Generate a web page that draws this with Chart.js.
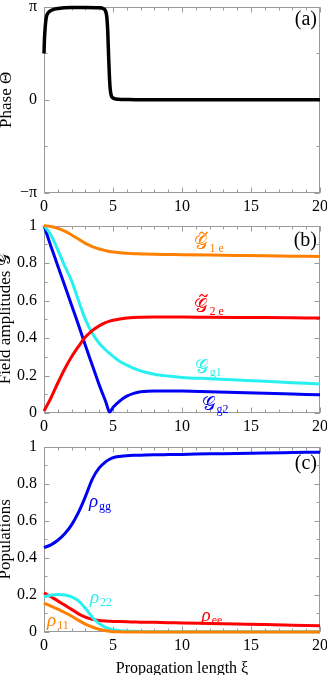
<!DOCTYPE html>
<html>
<head>
<meta charset="utf-8">
<script src="https://cdn.jsdelivr.net/npm/chart.js@4"></script>
<style>
  html, body { margin: 0; padding: 0; background: #fff; overflow: hidden; width: 327px; height: 675px; position: relative; }
  canvas { position: absolute; }
</style>
</head>
<body>
<canvas id="chartA" width="345" height="225" style="left:-6px;top:-10px"></canvas>
<canvas id="chartB" width="345" height="226" style="left:-6px;top:209px"></canvas>
<canvas id="chartC" width="345" height="248" style="left:-6px;top:430px"></canvas>
<script>
// ---- data ----
// (a) phase
const phaseXi = [0, 0.03, 0.07, 0.12, 0.19, 0.3, 0.43, 0.7, 1, 2, 3, 4, 4.3, 4.45, 4.55, 4.62, 4.68, 4.74, 4.8, 4.87, 4.95, 5.1, 5.4, 6, 7, 10, 15, 20];
const phaseTheta = [1.56, 2.0, 2.33, 2.62, 2.83, 2.93, 2.99, 3.05, 3.08, 3.11, 3.11, 3.1, 3.07, 3.0, 2.8, 2.3, 1.5, 0.8, 0.35, 0.15, 0.08, 0.04, 0.02, 0.01, 0, 0, 0, 0];
const phaseTickLabels = ['\u2212\u03c0', '0', '\u03c0'];

// (b) field amplitudes and (c) populations share one xi grid
const xi = [0, 0.5, 1, 1.5, 2, 2.5, 3, 3.5, 4, 4.5, 4.75, 5, 5.5, 6, 6.5, 7, 8, 9, 10, 12, 14, 16, 18, 20];
const G1e = [1.0, 0.995, 0.985, 0.97, 0.95, 0.928, 0.905, 0.888, 0.875, 0.866, 0.862, 0.859, 0.855, 0.852, 0.85, 0.849, 0.847, 0.846, 0.845, 0.843, 0.841, 0.839, 0.837, 0.835];
const G2e = [0.01, 0.08, 0.16, 0.235, 0.3, 0.355, 0.405, 0.44, 0.465, 0.483, 0.49, 0.495, 0.502, 0.507, 0.51, 0.511, 0.512, 0.512, 0.512, 0.511, 0.51, 0.509, 0.508, 0.507];
const Gg1 = [1.0, 0.95, 0.87, 0.785, 0.705, 0.6, 0.5, 0.425, 0.372, 0.335, 0.318, 0.302, 0.275, 0.255, 0.238, 0.225, 0.207, 0.197, 0.19, 0.183, 0.176, 0.169, 0.162, 0.155];
const Gg2 = [1.0, 0.89, 0.785, 0.68, 0.575, 0.47, 0.36, 0.255, 0.15, 0.055, 0.005, 0.03, 0.065, 0.09, 0.105, 0.113, 0.118, 0.118, 0.117, 0.113, 0.109, 0.105, 0.101, 0.097];

const rhoGG = [0.455, 0.47, 0.495, 0.53, 0.578, 0.645, 0.73, 0.825, 0.885, 0.92, 0.932, 0.94, 0.947, 0.951, 0.953, 0.954, 0.956, 0.957, 0.958, 0.961, 0.963, 0.966, 0.968, 0.97];
const rho22 = [0.19, 0.198, 0.202, 0.2, 0.19, 0.168, 0.128, 0.08, 0.045, 0.024, 0.017, 0.012, 0.007, 0.005, 0.004, 0.003, 0.002, 0.002, 0.002, 0.002, 0.002, 0.002, 0.002, 0.002];
const rhoEE = [0.212, 0.19, 0.168, 0.145, 0.122, 0.098, 0.08, 0.068, 0.062, 0.059, 0.058, 0.057, 0.056, 0.055, 0.054, 0.053, 0.052, 0.05, 0.049, 0.046, 0.043, 0.04, 0.037, 0.034];
const rho11 = [0.155, 0.14, 0.123, 0.105, 0.085, 0.063, 0.043, 0.027, 0.015, 0.007, 0.004, 0.002, 0.001, 0, 0, 0, 0, 0, 0, 0, 0, 0, 0, 0];

const unitTickLabels = ['0', '0.2', '0.4', '0.6', '0.8', '1'];

const ORANGE = 'rgb(255,128,0)', RED = 'rgb(255,0,0)', CYAN = 'rgb(40,240,240)', BLUE = 'rgb(0,0,245)';
const SERIF = '"Liberation Serif", "Times New Roman", serif';

const zip = (xs, ys) => xs.map((v, i) => ({ x: v, y: ys[i] }));
const range = (a, b, s) => { const r = []; for (let v = a; v <= b + 1e-9; v += s) r.push(+v.toFixed(4)); return r; };

// frame on all four sides with inward ticks (Mathematica style)
const frameTicks = {
  id: 'frameTicks',
  beforeDatasetsDraw(chart, args, opt) {
    const { ctx, chartArea: a, scales: { x, y } } = chart;
    ctx.save();
    ctx.strokeStyle = '#9a9a9a';
    ctx.lineWidth = 1;
    const L = Math.round(a.left) + 0.5, R = Math.round(a.right) - 0.5;
    const T = Math.round(a.top) + 0.5, B = Math.round(a.bottom) - 0.5;
    ctx.strokeRect(L, T, R - L, B - T);
    ctx.beginPath();
    const xm = (v, len) => {
      const p = Math.round(x.getPixelForValue(v)) + 0.5;
      ctx.moveTo(p, B); ctx.lineTo(p, B - len);
      ctx.moveTo(p, T); ctx.lineTo(p, T + len);
    };
    const ym = (v, len) => {
      const p = Math.round(y.getPixelForValue(v)) + 0.5;
      ctx.moveTo(L, p); ctx.lineTo(L + len, p);
      ctx.moveTo(R, p); ctx.lineTo(R - len, p);
    };
    opt.xMinor.forEach(v => xm(v, 3));
    opt.xMajor.forEach(v => xm(v, 5));
    opt.yMinor.forEach(v => ym(v, 3));
    opt.yMajor.forEach(v => ym(v, 5));
    ctx.stroke();
    ctx.restore();
  }
};

function drawMathLabel(ctx, cx, cy, it) {
  const mainFont = it.script ? '19px "DejaVu Serif", serif' : 'italic 19px ' + SERIF;
  const subFont = '12px ' + SERIF;
  ctx.font = mainFont;
  const mw = ctx.measureText(it.main).width;
  ctx.font = subFont;
  const sw = ctx.measureText(it.sub).width;
  const x0 = cx - (mw + sw + 1) / 2;
  const base = cy + 4;
  ctx.fillStyle = it.color;
  ctx.textAlign = 'left';
  ctx.textBaseline = 'alphabetic';
  ctx.font = mainFont;
  ctx.fillText(it.main, x0, base);
  if (it.tilde) {
    // small wave above the letter
    const tx = x0 + mw / 2 + 2, ty = base - 16;
    ctx.strokeStyle = it.color;
    ctx.lineWidth = 1.3;
    ctx.beginPath();
    ctx.moveTo(tx - 4, ty + 1.2);
    ctx.bezierCurveTo(tx - 2.5, ty - 2, tx - 1, ty - 1, tx, ty);
    ctx.bezierCurveTo(tx + 1, ty + 1, tx + 2.5, ty + 2, tx + 4, ty - 1.2);
    ctx.stroke();
  }
  ctx.font = subFont;
  ctx.fillText(it.sub, x0 + mw + 1, base + 3);
}

const curveLabels = {
  id: 'curveLabels',
  afterDatasetsDraw(chart, args, opt) {
    const { ctx, chartArea: a, scales: { x, y } } = chart;
    ctx.save();
    (opt.items || []).forEach(it => drawMathLabel(ctx, x.getPixelForValue(it.x), y.getPixelForValue(it.y), it));
    ctx.font = '20px ' + SERIF;
    ctx.fillStyle = '#000';
    ctx.textAlign = 'right';
    ctx.textBaseline = 'middle';
    ctx.fillText(opt.panel, a.right - 3, a.top + opt.panelDy);
    ctx.restore();
  }
};

Chart.register(frameTicks, curveLabels);
Chart.defaults.font.family = SERIF;
Chart.defaults.color = '#000';

function line(data, color, width) {
  return { data, borderColor: color, borderWidth: width, pointRadius: 0, fill: false, cubicInterpolationMode: 'monotone', clip: 4 };
}

function makeChart(id, cfg) {
  return new Chart(document.getElementById(id), {
    type: 'line',
    data: { datasets: cfg.datasets },
    options: {
      responsive: false,
      animation: false,
      events: [],
      layout: { padding: { top: 12, right: 19, left: 0, bottom: 0 } },
      plugins: {
        legend: { display: false },
        tooltip: { enabled: false },
        frameTicks: { xMajor: range(0, 20, 5), xMinor: range(0, 20, 1), yMajor: cfg.yMajor, yMinor: cfg.yMinor },
        curveLabels: { items: cfg.labels, panel: cfg.panel, panelDy: cfg.panelDy }
      },
      scales: {
        x: {
          type: 'linear', min: 0, max: 20,
          grid: { display: false, drawTicks: false },
          border: { display: false },
          ticks: { stepSize: 5, padding: 4, font: { size: 16 }, maxRotation: 0 },
          title: cfg.xTitle ? { display: true, text: cfg.xTitle, font: { size: 16 }, padding: { top: 0, bottom: 0 } } : { display: false },
          afterFit: s => { s.height = cfg.xHeight; }
        },
        y: {
          type: 'linear', min: cfg.yMin, max: cfg.yMax,
          grid: { display: false, drawTicks: false },
          border: { display: false },
          afterBuildTicks: s => { s.ticks = cfg.yTicks.map(v => ({ value: v })); },
          ticks: { padding: 7, font: { size: 16 }, callback: (v, i) => cfg.yLabels[i] },
          title: { display: true, text: cfg.yTitle, font: { size: 17 }, padding: { top: cfg.yTitlePad, bottom: 0 } },
          afterFit: s => { s.width = 50; }
        }
      }
    }
  });
}

makeChart('chartA', {
  datasets: [line(zip(phaseXi, phaseTheta), '#000', 3.5)],
  yMin: -Math.PI, yMax: Math.PI,
  yTicks: [-Math.PI, 0, Math.PI], yLabels: phaseTickLabels,
  yMajor: [-Math.PI, 0, Math.PI], yMinor: [-Math.PI / 2, Math.PI / 2],
  yTitle: 'Phase \u0398', yTitlePad: 2,
  xHeight: 22, labels: [], panel: '(a)', panelDy: 13
});

makeChart('chartB', {
  datasets: [
    line(zip(xi, G1e), ORANGE, 3),
    line(zip(xi, G2e), RED, 3),
    line(zip(xi, Gg1), CYAN, 3),
    line(zip(xi, Gg2), BLUE, 3)
  ],
  yMin: 0, yMax: 1,
  yTicks: [0, 0.2, 0.4, 0.6, 0.8, 1], yLabels: unitTickLabels,
  yMajor: range(0, 1, 0.2), yMinor: range(0, 1, 0.1),
  yTitle: 'Field amplitudes \ud835\udca2', yTitlePad: 1,
  xHeight: 22, panel: '(b)', panelDy: 15,
  labels: [
    { x: 11.96, y: 0.896, main: '\ud835\udca2', sub: '1 e', color: ORANGE, script: true, tilde: true },
    { x: 11.96, y: 0.5625, main: '\ud835\udca2', sub: '2 e', color: RED, script: true, tilde: true },
    { x: 11.9, y: 0.234, main: '\ud835\udca2', sub: 'g1', color: CYAN, script: true },
    { x: 12.4, y: 0.036, main: '\ud835\udca2', sub: 'g2', color: BLUE, script: true }
  ]
});

makeChart('chartC', {
  datasets: [
    line(zip(xi, rho11), ORANGE, 3),
    line(zip(xi, rho22), CYAN, 3),
    line(zip(xi, rhoEE), RED, 3),
    line(zip(xi, rhoGG), BLUE, 3)
  ],
  yMin: 0, yMax: 1,
  yTicks: [0, 0.2, 0.4, 0.6, 0.8, 1], yLabels: unitTickLabels,
  yMajor: range(0, 1, 0.2), yMinor: range(0, 1, 0.1),
  yTitle: 'Populations', yTitlePad: 1,
  xTitle: 'Propagation length \u03be',
  xHeight: 46, panel: '(c)', panelDy: 17,
  labels: [
    { x: 4.06, y: 0.695, main: '\u03c1', sub: 'gg', color: BLUE },
    { x: 4.13, y: 0.18, main: '\u03c1', sub: '22', color: CYAN },
    { x: 1.01, y: 0.056, main: '\u03c1', sub: '11', color: ORANGE },
    { x: 12.17, y: 0.082, main: '\u03c1', sub: 'ee', color: RED }
  ]
});
</script>
</body>
</html>
